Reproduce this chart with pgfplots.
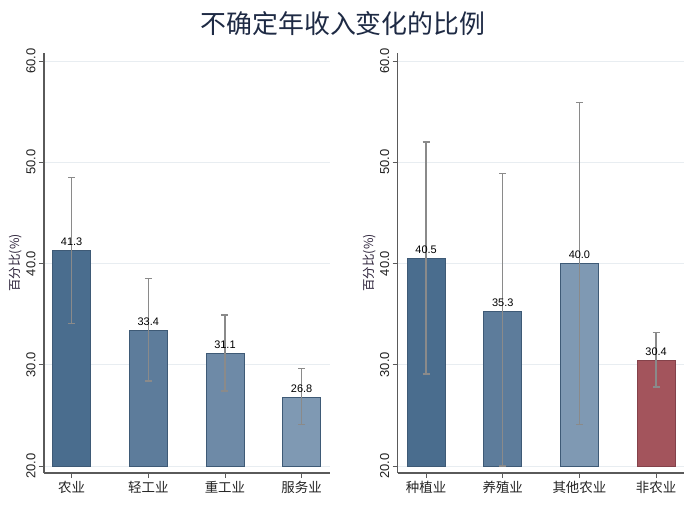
\documentclass[border=0pt]{standalone}
\usepackage{pgfplots}
\pgfplotsset{compat=1.18}
\usepackage{pgfplotstable}
\usepackage{fontspec}
\setmainfont{Liberation Sans}
\newfontfamily\cjk{Noto Sans CJK SC}

\definecolor{axiscol}{HTML}{5A5A5A}
\definecolor{gridcol}{HTML}{E8EDF1}
\definecolor{tickcol}{HTML}{222222}
\definecolor{labcol}{HTML}{2A2038}
\definecolor{titlecol}{HTML}{1E2A44}
\definecolor{errcol}{HTML}{8A8A8A}
\definecolor{cA}{HTML}{4A6D8E}
\definecolor{cB}{HTML}{5D7C9B}
\definecolor{cC}{HTML}{6E8AA7}
\definecolor{cD}{HTML}{7F99B3}
\definecolor{cR}{HTML}{A3545C}
\definecolor{edgeB}{HTML}{3E5A76}
\definecolor{edgeR}{HTML}{84424A}

\pgfplotstableread{
x y hi lo
1 41.3 48.5 34.1
2 33.4 38.5 28.4
3 31.1 34.9 27.4
4 26.8 29.6 24.1
}\tblA

\pgfplotstableread{
x y hi lo
1 40.5 52.0 29.1
2 35.3 48.9 20.0
3 40.0 55.9 24.1
4 30.4 33.2 27.8
}\tblB

\pgfplotsset{
  panel/.style={
    scale only axis, width=286bp, height=420.3bp,
    anchor=south west,
    xmin=0.64, xmax=4.37,
    ymin=-0.69, ymax=40.82,
    y filter/.expression={y-20},
    ytick={0,10,20,30,40}, yticklabels={20.0,30.0,40.0,50.0,60.0},
    xtick={1,2,3,4},
    axis x line*=bottom, axis y line*=left,
    axis line style={draw=axiscol, line width=1.2pt},
    tick align=outside, major tick length=5bp,
    tick style={draw=axiscol, line width=0.9pt},
    ymajorgrids, grid style={draw=gridcol, line width=0.8pt},
    yticklabel style={rotate=90, anchor=south, font=\fontsize{13}{15}\selectfont, text=tickcol},
    xticklabel style={font=\cjk\fontsize{13.5}{15}\selectfont, text=tickcol},
    /pgf/number format/assume math mode=true,
    ylabel={百分比(\%)},
    every axis y label/.style={at={(axis description cs:0,0.5)}, xshift=-28bp, rotate=90, anchor=center, font=\cjk\fontsize{12.5}{14}\selectfont, text=labcol},
  },
  barp/.style={ybar, bar width=38bp, bar shift=0pt, line width=0.6pt,
    nodes near coords={\pgfmathprintnumber[fixed,fixed zerofill,precision=1]{\pgfplotspointmeta}},
    point meta=explicit,
    every node near coord/.append style={font=\fontsize{11}{12}\selectfont, text=black, inner sep=2pt, yshift=2.5bp}},
  errp/.style={draw=none, mark=none, forget plot,
    error bars/.cd, y dir=both, y explicit,
    error bar style={draw=errcol, line width=1.5pt},
    error mark options={draw=errcol, line width=1.3pt, rotate=90, mark size=3.5bp}},
}

\begin{document}
\begin{tikzpicture}
\useasboundingbox (0,0) rectangle (700bp,509bp);
\node[font=\cjk\fontsize{26}{30}\selectfont, text=titlecol] at (343bp,485bp) {不确定年收入变化的比例};

\begin{axis}[panel, at={(44bp,36bp)},
  xticklabels={农业,轻工业,重工业,服务业}]
\addplot[barp, fill=cA, draw=edgeB, restrict x to domain=0.9:1.1] table[x=x,y=y,meta=y]{\tblA};
\addplot[barp, fill=cB, draw=edgeB, restrict x to domain=1.9:2.1] table[x=x,y=y,meta=y]{\tblA};
\addplot[barp, fill=cC, draw=edgeB, restrict x to domain=2.9:3.1] table[x=x,y=y,meta=y]{\tblA};
\addplot[barp, fill=cD, draw=edgeB, restrict x to domain=3.9:4.1] table[x=x,y=y,meta=y]{\tblA};
\addplot[errp] table[x=x, y=y, y error plus expr=\thisrow{hi}-\thisrow{y}, y error minus expr=\thisrow{y}-\thisrow{lo}]{\tblA};
\end{axis}

\begin{axis}[panel, at={(397.7bp,36bp)}, xmin=0.63, xmax=4.36,
  xticklabels={种植业,养殖业,其他农业,非农业}]
\addplot[barp, fill=cA, draw=edgeB, restrict x to domain=0.9:1.1] table[x=x,y=y,meta=y]{\tblB};
\addplot[barp, fill=cB, draw=edgeB, restrict x to domain=1.9:2.1] table[x=x,y=y,meta=y]{\tblB};
\addplot[barp, fill=cD, draw=edgeB, restrict x to domain=2.9:3.1] table[x=x,y=y,meta=y]{\tblB};
\addplot[barp, fill=cR, draw=edgeR, restrict x to domain=3.9:4.1] table[x=x,y=y,meta=y]{\tblB};
\addplot[errp] table[x=x, y=y, y error plus expr=\thisrow{hi}-\thisrow{y}, y error minus expr=\thisrow{y}-\thisrow{lo}]{\tblB};
\end{axis}
\end{tikzpicture}
\end{document}
